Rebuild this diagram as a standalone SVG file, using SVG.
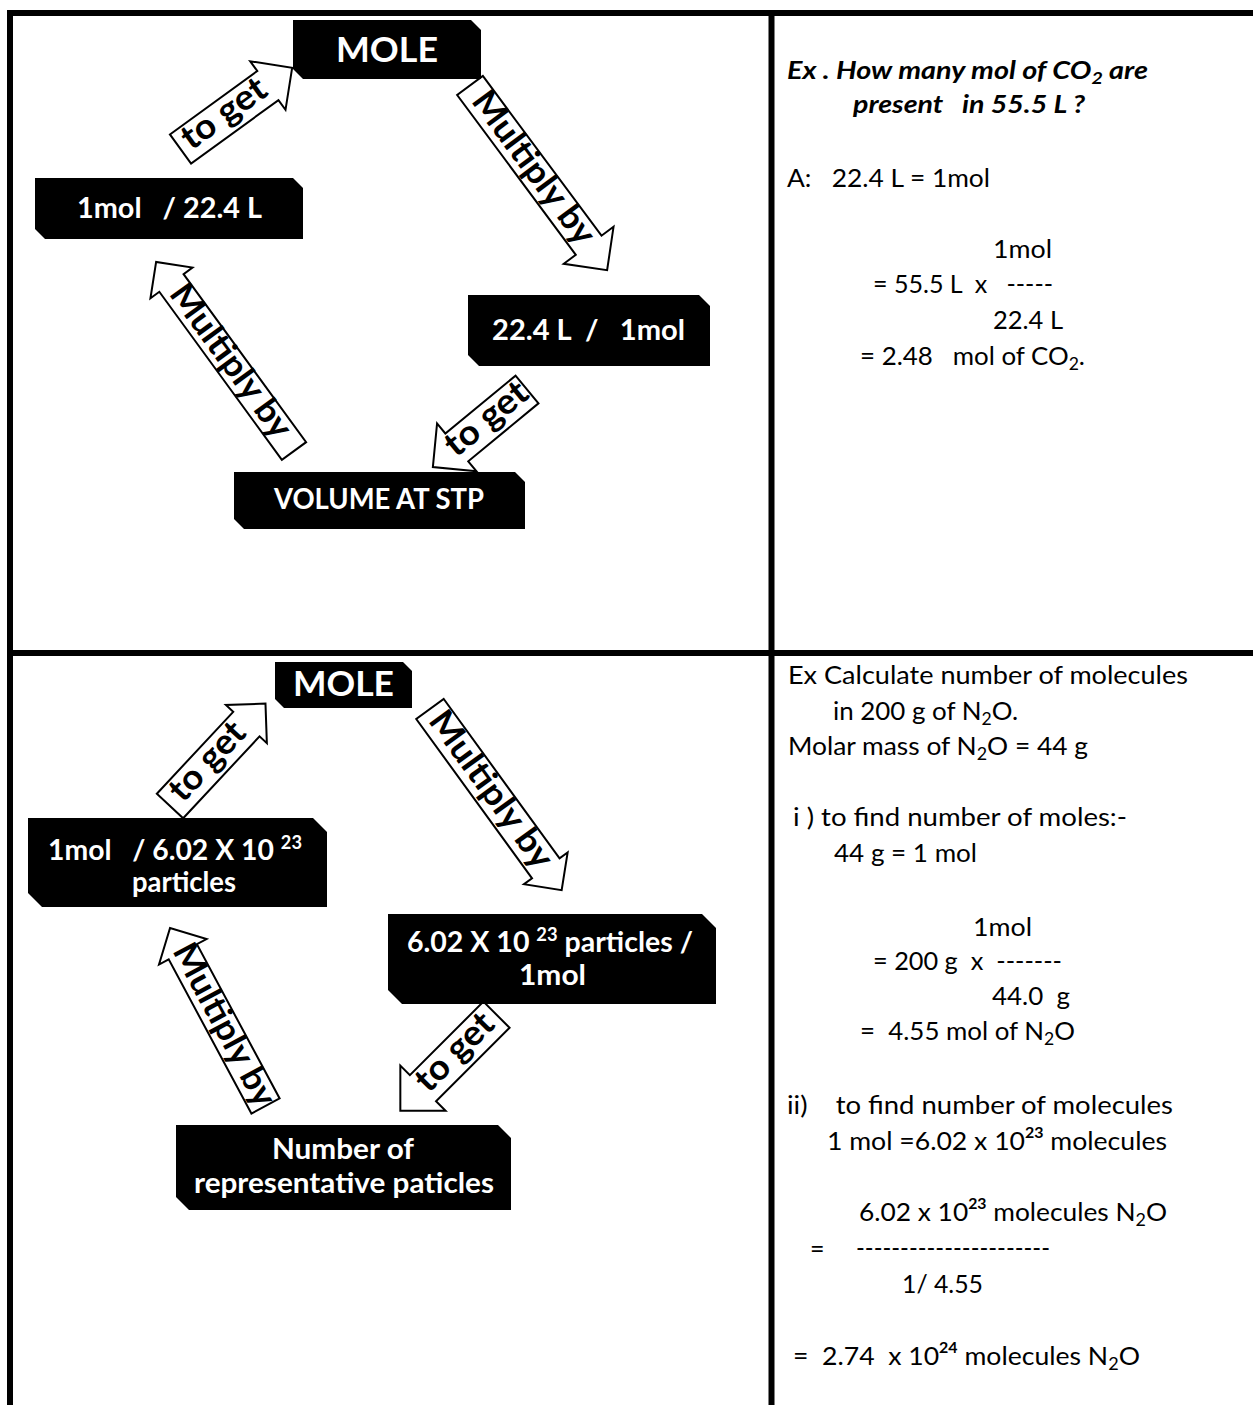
<svg xmlns="http://www.w3.org/2000/svg" width="1253" height="1405" viewBox="0 0 1253 1405">
<style>
text { white-space: pre; }
.frame { stroke: #000; stroke-width: 6; fill: none; }
.box { fill: #000; }
.lbl { font-family: Lato, "Open Sans", "DejaVu Sans", sans-serif; font-weight: 700; fill: #fff; font-size: 28px; text-anchor: middle; }
.lbl.big { font-size: 35px; }
.lbl.st { text-anchor: start; }
.arrow polygon { fill: #fff; stroke: #000; stroke-width: 2; stroke-linejoin: miter; }
.arrow text { font-family: Lato, "Open Sans", "DejaVu Sans", sans-serif; font-weight: 700; fill: #000; text-anchor: middle; }
.tg { font-size: 35px; }
.mb { font-size: 34px; }
.txt { font-family: Lato, "Open Sans", "DejaVu Sans", sans-serif; font-size: 25px; fill: #000; }
.q { font-weight: 700; font-style: italic; }
.sup { font-weight: 700; }
</style>
<rect x="0" y="0" width="1253" height="1405" fill="#fff"/>
<g id="frame" class="frame">
<line x1="7" y1="13" x2="1253" y2="13"/>
<line x1="10" y1="10" x2="10" y2="1405"/>
<line x1="771.5" y1="10" x2="771.5" y2="1405"/>
<line x1="7" y1="653" x2="1253" y2="653"/>
</g>
<g id="connectors">
<g id="arrow-t1" class="arrow" transform="translate(180.5,149) rotate(-36)">
<polygon points="0,-18 108,-18 108,-30 138,0 108,30 108,18 0,18"/>
<text class="tg" x="56" y="0" dy="8" textLength="97" lengthAdjust="spacingAndGlyphs">to get</text>
</g>
<g id="arrow-t2" class="arrow" transform="translate(470,85.5) rotate(53.4)">
<polygon points="0,-16 199,-16 199,-31 230,0 199,31 199,16 0,16"/>
<text class="mb" x="104" y="0" dy="9" textLength="182" lengthAdjust="spacingAndGlyphs">Multiply by</text>
</g>
<g id="arrow-t3" class="arrow" transform="translate(527,389.5) rotate(140.5)">
<polygon points="0,-18 91,-18 91,-31 122,0 91,31 91,18 0,18"/>
<text class="tg" transform="translate(50,0) rotate(180)" x="0" y="0" dy="8" textLength="97" lengthAdjust="spacingAndGlyphs">to get</text>
</g>
<g id="arrow-t4" class="arrow" transform="translate(294,451) rotate(-126.1)">
<polygon points="0,-15 208,-15 208,-26 234,0 208,26 208,15 0,15"/>
<text class="mb" transform="translate(110,0) rotate(180)" x="0" y="0" dy="9" textLength="182" lengthAdjust="spacingAndGlyphs">Multiply by</text>
</g>
<g id="arrow-b1" class="arrow" transform="translate(170,806) rotate(-47)">
<polygon points="0,-18 112,-18 112,-28 140,0 112,28 112,18 0,18"/>
<text class="tg" x="58" y="0" dy="8" textLength="95" lengthAdjust="spacingAndGlyphs">to get</text>
</g>
<g id="arrow-b2" class="arrow" transform="translate(430,709) rotate(54)">
<polygon points="0,-17 197,-17 197,-27 224,0 197,27 197,17 0,17"/>
<text class="mb" x="101" y="0" dy="9" textLength="186" lengthAdjust="spacingAndGlyphs">Multiply by</text>
</g>
<g id="arrow-b3" class="arrow" transform="translate(265.5,1106) rotate(-118.2)">
<polygon points="0,-16 175,-16 175,-27 202,0 175,27 175,16 0,16"/>
<text class="mb" transform="translate(91,0) rotate(180)" x="0" y="0" dy="9" textLength="180" lengthAdjust="spacingAndGlyphs">Multiply by</text>
</g>
<g id="arrow-b4" class="arrow" transform="translate(496.5,1014.7) rotate(135)">
<polygon points="0,-18.5 104,-18.5 104,-32 136,0 104,32 104,18.5 0,18.5"/>
<text class="tg" transform="translate(56,0) rotate(180)" x="0" y="0" dy="8" textLength="96" lengthAdjust="spacingAndGlyphs">to get</text>
</g>
</g>
<g id="node-mole-top">
<path class="box" d="M293,20 H471 L481,30 V79 H303 L293,69 Z"/>
<text class="lbl big" x="387" y="62" textLength="102" lengthAdjust="spacingAndGlyphs">MOLE</text>
</g>
<g id="node-mol-per-l">
<path class="box" d="M35,178 H293 L303,188 V239 H45 L35,229 Z"/>
<text class="lbl" x="169.5" y="218" textLength="185" lengthAdjust="spacingAndGlyphs">1mol   / 22.4 L</text>
</g>
<g id="node-l-per-mol">
<path class="box" d="M468,295 H699 L710,306 V366 H479 L468,355 Z"/>
<text class="lbl" x="588.5" y="340" textLength="193" lengthAdjust="spacingAndGlyphs">22.4 L  /   1mol</text>
</g>
<g id="node-volume">
<path class="box" d="M234,472 H515 L525,482 V529 H244 L234,519 Z"/>
<text class="lbl" x="379" y="509" textLength="210" lengthAdjust="spacingAndGlyphs">VOLUME AT STP</text>
</g>
<g id="node-mole-bottom">
<path class="box" d="M275,662 H403 L412,671 V708 H284 L275,699 Z"/>
<text class="lbl big" x="343.5" y="696" textLength="101" lengthAdjust="spacingAndGlyphs">MOLE</text>
</g>
<g id="node-mol-per-particles">
<path class="box" d="M28,818 H313 L327,832 V907 H42 L28,893 Z"/>
<text class="lbl st" x="48" y="860" textLength="254" lengthAdjust="spacingAndGlyphs">1mol   / 6.02 X 10 <tspan font-size="18" dy="-11">23</tspan></text>
<text class="lbl" x="184" y="892" textLength="104" lengthAdjust="spacingAndGlyphs">particles</text>
</g>
<g id="node-particles-per-mol">
<path class="box" d="M388,914 H702 L716,928 V1004 H402 L388,990 Z"/>
<text class="lbl st" x="407" y="952" textLength="286" lengthAdjust="spacingAndGlyphs">6.02 X 10 <tspan font-size="18" dy="-11">23</tspan><tspan dy="11"> particles /</tspan></text>
<text class="lbl" x="552.5" y="985" textLength="67" lengthAdjust="spacingAndGlyphs">1mol</text>
</g>
<g id="node-representative">
<path class="box" d="M176,1125 H498 L511,1138 V1210 H189 L176,1197 Z"/>
<text class="lbl" x="343" y="1159" textLength="142" lengthAdjust="spacingAndGlyphs">Number of</text>
<text class="lbl" x="344" y="1193" textLength="300" lengthAdjust="spacingAndGlyphs">representative paticles</text>
</g>
<g id="example-volume" class="txt">
<text class="q" x="787" y="79" textLength="361" lengthAdjust="spacingAndGlyphs">Ex . How many mol of CO<tspan font-size="17" dy="5">2</tspan><tspan dy="-5"> are</tspan></text>
<text class="q" x="853" y="113" textLength="232" lengthAdjust="spacingAndGlyphs">present   in 55.5 L ?</text>
<text x="787" y="187" textLength="203" lengthAdjust="spacingAndGlyphs">A:   22.4 L = 1mol</text>
<text x="993" y="258" textLength="59" lengthAdjust="spacingAndGlyphs">1mol</text>
<text x="873" y="293" textLength="180" lengthAdjust="spacingAndGlyphs">= 55.5 L  x   -----</text>
<text x="993" y="329" textLength="70" lengthAdjust="spacingAndGlyphs">22.4 L</text>
<text x="860" y="365" textLength="225" lengthAdjust="spacingAndGlyphs">= 2.48   mol of CO<tspan font-size="17" dy="5">2</tspan><tspan dy="-5">.</tspan></text>
</g>
<g id="example-particles" class="txt">
<text x="788" y="684" textLength="400" lengthAdjust="spacingAndGlyphs">Ex Calculate number of molecules</text>
<text x="833" y="720" textLength="185" lengthAdjust="spacingAndGlyphs">in 200 g of N<tspan font-size="17" dy="5">2</tspan><tspan dy="-5">O.</tspan></text>
<text x="788" y="755" textLength="300" lengthAdjust="spacingAndGlyphs">Molar mass of N<tspan font-size="17" dy="5">2</tspan><tspan dy="-5">O = 44 g</tspan></text>
<text x="793" y="826" textLength="334" lengthAdjust="spacingAndGlyphs">i ) to find number of moles:-</text>
<text x="834" y="862" textLength="143" lengthAdjust="spacingAndGlyphs">44 g = 1 mol</text>
<text x="973" y="936" textLength="59" lengthAdjust="spacingAndGlyphs">1mol</text>
<text x="873" y="970" textLength="189" lengthAdjust="spacingAndGlyphs">= 200 g  x  -------</text>
<text x="992" y="1005" textLength="78" lengthAdjust="spacingAndGlyphs">44.0  g</text>
<text x="860" y="1040" textLength="215" lengthAdjust="spacingAndGlyphs">=  4.55 mol of N<tspan font-size="17" dy="5">2</tspan><tspan dy="-5">O</tspan></text>
<text x="787" y="1114" textLength="386" lengthAdjust="spacingAndGlyphs">ii)    to find number of molecules</text>
<text x="827" y="1150" textLength="340" lengthAdjust="spacingAndGlyphs">1 mol =6.02 x 10<tspan class="sup" font-size="15" dy="-12">23</tspan><tspan dy="12"> molecules</tspan></text>
<text x="859" y="1221" textLength="308" lengthAdjust="spacingAndGlyphs">6.02 x 10<tspan class="sup" font-size="15" dy="-12">23</tspan><tspan dy="12"> molecules N</tspan><tspan font-size="17" dy="5">2</tspan><tspan dy="-5">O</tspan></text>
<text x="810" y="1258">=</text>
<text x="856" y="1257" textLength="194" lengthAdjust="spacingAndGlyphs">----------------------</text>
<text x="902" y="1293" textLength="81" lengthAdjust="spacingAndGlyphs">1/ 4.55</text>
<text x="793" y="1365" textLength="347" lengthAdjust="spacingAndGlyphs">=  2.74  x 10<tspan class="sup" font-size="15" dy="-12">24</tspan><tspan dy="12"> molecules N</tspan><tspan font-size="17" dy="5">2</tspan><tspan dy="-5">O</tspan></text>
</g>
</svg>
